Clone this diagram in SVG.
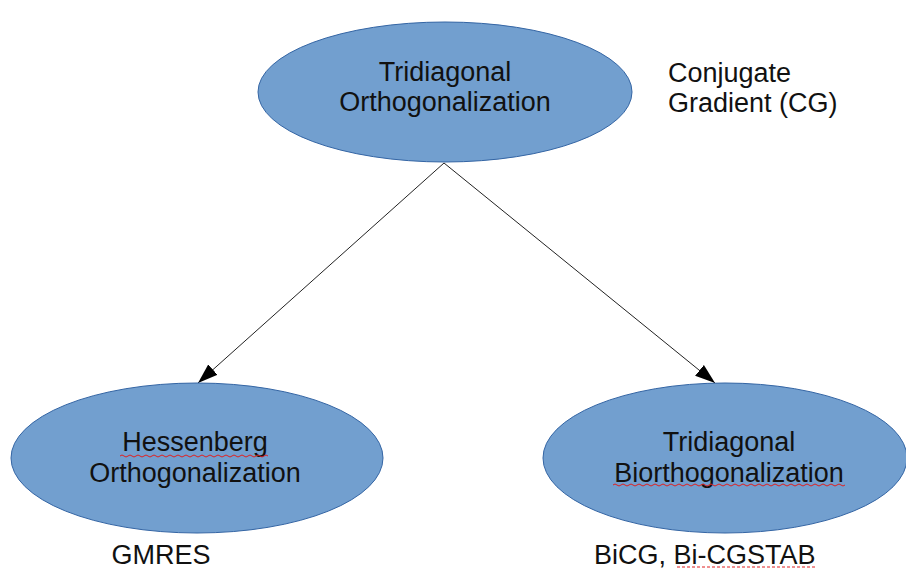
<svg xmlns="http://www.w3.org/2000/svg" width="906" height="569" viewBox="0 0 906 569">
<defs>
<style>
.node{fill:#729fcf;stroke:#3465a4;stroke-width:1}
.t{font-family:"Liberation Sans",Arial,sans-serif;font-size:27px;fill:#111;text-anchor:middle}
.l{font-family:"Liberation Sans",Arial,sans-serif;font-size:27px;fill:#111}
.edge{stroke:#222;stroke-width:1;fill:none}
.sq{stroke:#e02020;stroke-width:1;fill:none}
</style>
<marker id="ah" viewBox="0 0 20 14" refX="20" refY="7" markerWidth="20" markerHeight="14" markerUnits="userSpaceOnUse" orient="auto">
<path d="M0,0 L20,7 L0,14 Z" fill="#000"/>
</marker>
</defs>
<rect width="906" height="569" fill="#fff"/>
<g id="connectors">
<line class="edge" x1="444" y1="163" x2="198" y2="383" marker-end="url(#ah)"/>
<line class="edge" x1="444" y1="163" x2="715" y2="383" marker-end="url(#ah)"/>
</g>
<g id="top">
<ellipse class="node" cx="445" cy="92" rx="187" ry="70"/>
<text class="t" x="445" y="81">Tridiagonal</text>
<text class="t" x="445" y="111">Orthogonalization</text>
</g>
<g id="cg">
<text class="l" x="668" y="82">Conjugate</text>
<text class="l" x="668" y="112">Gradient (CG)</text>
</g>
<g id="hess">
<ellipse class="node" cx="197" cy="458" rx="186" ry="75"/>
<text class="t" x="195" y="451">Hessenberg</text>
<text class="t" x="195" y="482">Orthogonalization</text>
<path class="sq" d="M120,456 q2,-2 4,0 t4,0 t4,0 t4,0 t4,0 t4,0 t4,0 t4,0 t4,0 t4,0 t4,0 t4,0 t4,0 t4,0 t4,0 t4,0 t4,0 t4,0 t4,0 t4,0 t4,0 t4,0 t4,0 t4,0 t4,0 t4,0 t4,0 t4,0 t4,0 t4,0 t4,0 t4,0 t4,0 t4,0 t4,0 t4,0 t4,0"/>
</g>
<g id="bi">
<ellipse class="node" cx="725" cy="458" rx="182" ry="75"/>
<text class="t" x="729" y="451">Tridiagonal</text>
<text class="t" x="729" y="482">Biorthogonalization</text>
<path class="sq" d="M613,485 q2,-2 4,0 t4,0 t4,0 t4,0 t4,0 t4,0 t4,0 t4,0 t4,0 t4,0 t4,0 t4,0 t4,0 t4,0 t4,0 t4,0 t4,0 t4,0 t4,0 t4,0 t4,0 t4,0 t4,0 t4,0 t4,0 t4,0 t4,0 t4,0 t4,0 t4,0 t4,0 t4,0 t4,0 t4,0 t4,0 t4,0 t4,0 t4,0 t4,0 t4,0 t4,0 t4,0 t4,0 t4,0 t4,0 t4,0 t4,0 t4,0 t4,0 t4,0 t4,0 t4,0 t4,0 t4,0 t4,0 t4,0 t4,0 t4,0"/>
</g>
<g id="gmres">
<text class="t" x="161" y="564">GMRES</text>
</g>
<g id="bicg">
<text class="l" x="594" y="564">BiCG, Bi-CGSTAB</text>
<path class="sq" stroke-dasharray="3,2" d="M677,567 L815,567"/>
</g>
</svg>
